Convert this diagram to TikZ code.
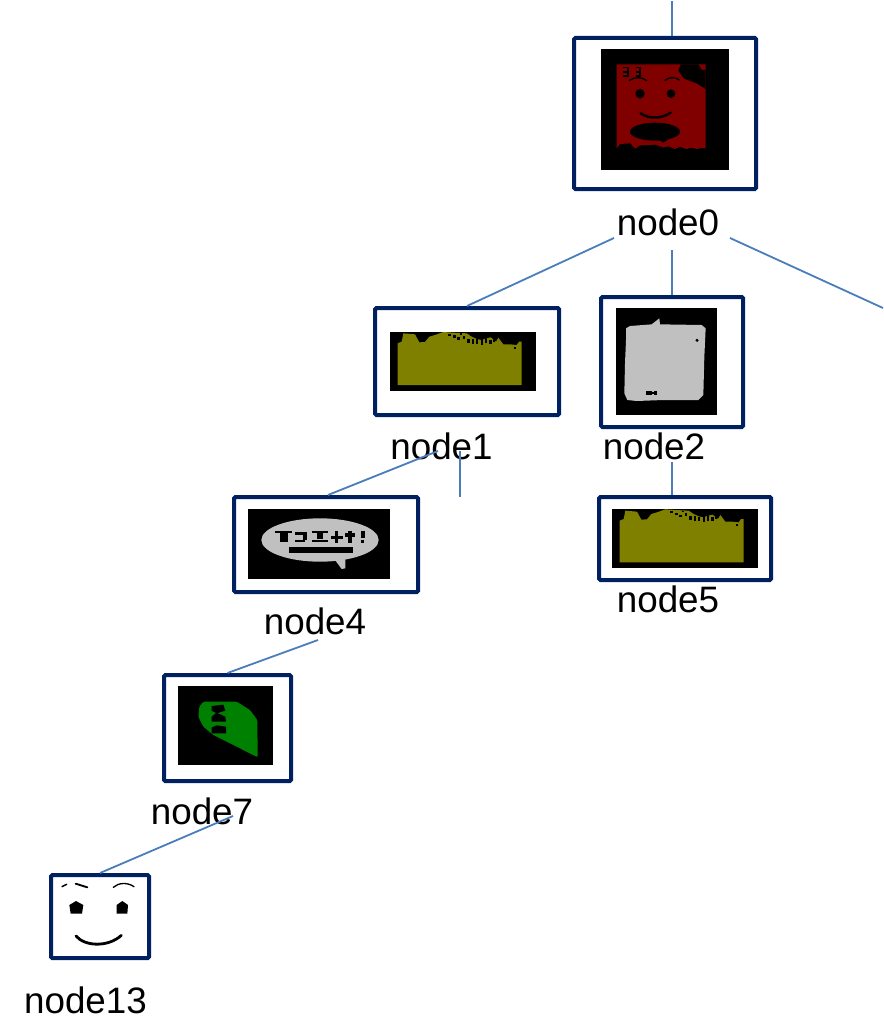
\documentclass[tikz,border=0pt]{standalone}
\usepackage{fontspec}
\setmainfont{Liberation Sans}
\definecolor{boxblue}{HTML}{002060}
\definecolor{linkblue}{HTML}{4A7EBB}
\definecolor{imgred}{HTML}{800000}
\definecolor{imgolive}{HTML}{808000}
\definecolor{imggrey}{HTML}{C0C0C0}
\definecolor{imggreen}{HTML}{008000}
\tikzset{
  framebox/.style={draw=boxblue,line width=3pt,rectangle,rounded corners=1pt,inner sep=0pt,fill=white},
  caption/.style={anchor=base,inner sep=0pt,font=\fontsize{27.6}{30}\selectfont},
  link/.style={draw=linkblue,line width=1.35pt},
  zoomed/.style={x=0.25pt,y=-0.25pt},
  ink/.style={line width=#1,draw=black,line cap=round},
}
\newcommand{\oliveart}{%
  \fill[black] (60,126) rectangle (498,303);
  \fill[imgolive] (83,285) -- (455,285) -- (455,155) -- (447,155) -- (440,165) -- (420,163) -- (400,163) -- (385,143) -- (378,155) -- (362,142) -- (345,146) -- (335,150) -- (320,147) -- (305,140) -- (290,130) -- (250,128) -- (220,126) -- (195,135) -- (178,140) -- (165,156) -- (148,157) -- (135,133) -- (100,130) -- (95,155) -- (83,160) -- cycle;
  \foreach \a/\b/\h in {235/132/6,250/136/8,262/142/7,278/138/9,292/146/12,306/146/16,318/148/14,332/146/18,345/144/16,358/150/12,368/146/10,300/132/6,270/130/5,432/170/6} 
    \fill[black] (\a,\b) rectangle ++(7,\h);
}
\begin{document}
\begin{tikzpicture}[x=0.75pt,y=-0.75pt]
\useasboundingbox (0,0) rectangle (884,1031);

% captions
\node[caption] (lab0) at (668,235) {node0};
\node[caption] (lab1) at (441.5,459) {node1};
\node[caption] (lab2) at (654,459) {node2};
\node[caption] (lab5) at (668,612) {node5};
\node[caption] (lab4) at (315,634) {node4};
\node[caption] (lab7) at (202,824) {node7};
\node[caption] (lab13) at (85.5,1013) {node13};

% frames
\node[framebox,minimum width=136.5pt,minimum height=113.25pt] (box0) at (665,113.5) {};
\node[framebox,minimum width=138pt,minimum height=80.25pt] (box1) at (467,361.5) {};
\node[framebox,minimum width=106.5pt,minimum height=97.5pt] (box2) at (672,362) {};
\node[framebox,minimum width=129pt,minimum height=62.25pt] (box5) at (685,538.5) {};
\node[framebox,minimum width=138pt,minimum height=71.25pt] (box4) at (326,544.5) {};
\node[framebox,minimum width=95.25pt,minimum height=79.5pt] (box7) at (227.5,728) {};
\node[framebox,minimum width=73.5pt,minimum height=62.25pt] (box13) at (100,916.5) {};

% free ends
\coordinate (topend) at (672,1);
\coordinate (rightend) at (883,308);
\coordinate (midend) at (460,497);

% connectors
\draw[link] (topend) -- ([shift={(7,0)}]box0.north);
\draw[link] ([shift={(-54,3)}]lab0.base) -- (box1.north);
\draw[link] ([shift={(4,15)}]lab0.base) -- (box2.north);
\draw[link] ([shift={(62,3)}]lab0.base) -- (rightend);
\draw[link] ([shift={(-3.5,-8)}]lab1.base) -- ([shift={(2,0)}]box4.north);
\draw[link] ([shift={(18.5,-8)}]lab1.base) -- (midend);
\draw[link] ([shift={(18,3)}]lab2.base) -- ([shift={(-13,0)}]box5.north);
\draw[link] ([shift={(3,6)}]lab4.base) -- (box7.north);
\draw[link] ([shift={(31,-8)}]lab7.base) -- (box13.north);

% picture in node0
\begin{scope}[shift={(560,20)},zoomed]
  \fill[black] (123,87) rectangle (507,450);
  \fill[imgred] (170,133) -- (437,133) -- (437,385) -- (425,384) -- (410,387) -- (395,383) -- (378,387) -- (360,380) -- (345,387) -- (325,379) -- (310,382) -- (285,374) -- (240,376) -- (225,386) -- (212,370) -- (180,372) -- (170,385) -- cycle;
  \fill[black] (362,133) -- (355,152) -- (372,176) -- (410,190) -- (437,207) -- (437,150) -- (425,150) -- (415,133) -- cycle;
  \foreach \xx in {190,228} {
    \fill[black] (\xx,140) rectangle ++(14,5);
    \fill[black] (\xx,153) rectangle ++(14,6);
    \fill[black] (\xx,166) rectangle ++(14,5);
    \fill[black] (\xx+10,140) rectangle ++(6,31);
  }
  \draw[ink=1pt] (208,181) .. controls (225,170) and (245,170) .. (260,182);
  \draw[ink=1pt] (315,181) .. controls (328,170) and (345,170) .. (358,180);
  \fill[black] (240,221) circle (14);
  \fill[black] (333,221) circle (13);
  \draw[ink=1.8pt] (242,280) .. controls (265,297) and (305,297) .. (332,278);
  \fill[black] (285,335) ellipse (75 and 27);
  \fill[black] (295,358) -- (325,358) -- (310,368) -- cycle;
\end{scope}

% pictures in node1 and node5
\begin{scope}[shift={(370,290)},zoomed]
  \oliveart
\end{scope}
\begin{scope}[shift={(592,467.33)},zoomed]
  \oliveart
\end{scope}

% picture in node2
\begin{scope}[shift={(370,290)},zoomed]
  \fill[black] (738,54) rectangle (1041,375);
  \fill[imggrey] (768,115) -- (780,108) -- (845,103) -- (868,85) -- (870,103) -- (995,105) -- (1007,115) -- (1003,200) -- (1000,315) -- (985,330) -- (880,330) -- (800,333) -- (772,330) -- (763,310) -- (765,220) -- (768,150) -- cycle;
  \fill[black] (981,151) circle (5);
  \fill[black] (827,302) rectangle (845,314);
  \fill[black] (845,305) rectangle (855,311);
  \fill[black] (853,302) rectangle (862,314);
\end{scope}

% picture in node4, node7, node13
\begin{scope}[shift={(40,500)},zoomed]
  \fill[black] (624,27) rectangle (1050,237);
  \fill[imggrey] (840,120) ellipse (176 and 65);
  \fill[imggrey] (885,180) -- (905,207) -- (916,205) -- (916,170) -- cycle;
  \fill[black] (748,140) rectangle (940,158);
  \fill[black] (705,92) rectangle (755,100);
  \fill[black] (720,100) rectangle (745,125);
  \fill[black] (765,96) rectangle (800,104);
  \fill[black] (790,104) rectangle (800,120);
  \fill[black] (765,120) rectangle (795,127);
  \fill[black] (815,92) rectangle (865,100);
  \fill[black] (830,100) rectangle (848,118);
  \fill[black] (815,120) rectangle (865,127);
  \fill[black] (872,108) rectangle (910,116);
  \fill[black] (885,92) rectangle (895,128);
  \fill[black] (915,100) rectangle (945,112);
  \fill[black] (925,92) rectangle (935,128);
  \fill[black] (962,92) rectangle (975,115);
  \fill[black] (964,120) rectangle (973,128);

  \fill[black] (414,558) rectangle (699,795);
  \fill[imggreen,rounded corners=1pt] (490,605) -- (590,605) -- (630,630) -- (652,660) -- (653,772) -- (590,740) -- (520,705) -- (490,680) -- (475,650) -- (478,620) -- cycle;
  \fill[black] (515,618) -- (550,614) -- (556,632) -- (530,640) -- (515,632) -- cycle;
  \fill[black] (515,650) -- (530,638) -- (556,650) -- (558,665) -- (515,665) -- cycle;
  \fill[black] (515,682) -- (530,676) -- (558,680) -- (558,700) -- (515,700) -- cycle;

  \draw[ink=1.1pt] (66,1160) -- (80,1153);
  \draw[ink=1.4pt] (107,1151) -- (142,1162);
  \draw[ink=1pt] (220,1162) .. controls (235,1148) and (262,1146) .. (282,1160);
  \fill[black] (108,1203) -- (130,1215) -- (126,1241) -- (92,1241) -- (88,1215) -- cycle;
  \fill[black] (247,1203) -- (264,1215) -- (262,1241) -- (230,1241) -- (230,1215) -- cycle;
  \draw[ink=2.1pt] (108,1308) .. controls (135,1340) and (205,1342) .. (244,1306);
\end{scope}
\end{tikzpicture}
\end{document}
